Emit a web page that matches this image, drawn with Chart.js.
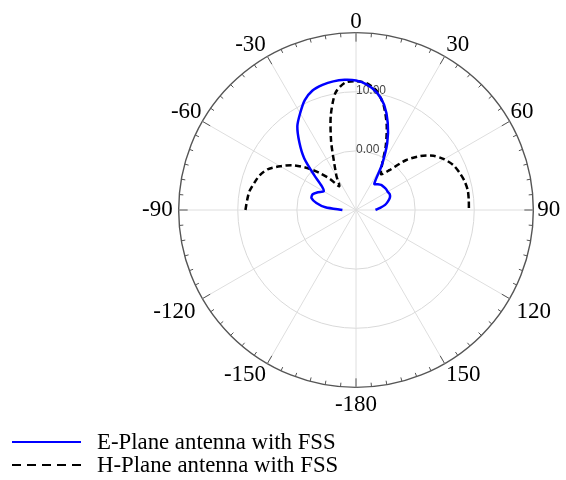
<!DOCTYPE html>
<html>
<head>
<meta charset="utf-8">
<script src="https://cdn.jsdelivr.net/npm/chart.js@4/dist/chart.umd.min.js"></script>
<style>
  html, body { margin: 0; padding: 0; background: #fff; }
  #wrap { position: relative; width: 566px; height: 480px; }
  #legend { position: absolute; left: 12px; top: 430px; font: 22.8px "Liberation Serif", "Times New Roman", serif; color: #000; }
  #legend .item { display: flex; align-items: center; height: 23px; white-space: nowrap; }
  #legend svg { margin-right: 16px; }
</style>
</head>
<body>
<div id="wrap">
  <canvas id="polarChart"></canvas>
  <div id="legend"></div>
</div>
<script>
// ---- Data (angle in degrees, gain in dB) ----
const thetas = [-90, -85, -80, -75, -70, -65, -60, -55, -50, -45, -40, -35, -30, -25, -20, -15, -10, -5,
                0, 5, 10, 15, 20, 25, 30, 35, 40, 45, 50, 55, 60, 65, 70, 75, 80, 85, 90];
const ePlane = [-7.7, -4.8, -3.2, -2.2, -2.2, -2.9, -3.7, -2.9, -0.7, 2.4, 4.9, 7.3, 8.9, 10.5, 11.5, 11.9, 12.1, 12.1,
                11.9, 11.3, 10.2, 8.4, 5.7, 2.5, -1.3, -4.6, -4.3, -4.0, -3.9, -3.8, -3.8, -3.7, -3.9, -4.4, -5.0, -5.9, -6.7];
const hPlane = [8.7, 8.5, 8.3, 7.8, 7.3, 6.4, 4.8, 3.2, 1.2, -1.0, -3.1, -5.1, -3.4, -1.3, 2.3, 6.5, 10.1, 11.6,
                11.8, 11.5, 10.4, 8.2, 5.2, 1.9, -1.2, -2.6, -1.2, 1.9, 4.2, 6.0, 7.2, 8.1, 8.6, 9.0, 9.2, 9.15, 9.1];
const seriesNames = ['E-Plane antenna with FSS', 'H-Plane antenna with FSS'];
const angleStep = 5;            // spoke resolution of the polar grid
const majorAngles = [0, 30, 60, 90, 120, 150, -180, -150, -120, -90, -60, -30];
const ringLabels = [0, 10];     // radial tick labels shown on the 0° spoke
const rMin = -10, rMax = 20, rStep = 10;

// spokes clockwise from the top: 0, 5, ... 175, -180, -175, ... -5
const angleLabels = [];
for (let a = 0; a < 360; a += angleStep) angleLabels.push(a >= 180 ? a - 360 : a);

// radar needs one slot per spoke; unused spokes stay empty
const toSpokes = vals => {
  const out = angleLabels.map(() => null);
  thetas.forEach((t, k) => { out[angleLabels.indexOf(t === 180 ? -180 : t)] = vals[k]; });
  return out;
};

const labelPad = { '0': 1.3, '30': 3, '60': 1, '90': 4, '120': 8, '150': 2.5, '-180': 8.8,
                   '-150': 2.5, '-120': 8, '-90': 6, '-60': 1, '-30': 3 };

// outer ring tick marks + radial value labels
const polarDecor = {
  id: 'polarDecor',
  beforeDatasetsDraw(chart) {
    const s = chart.scales.r, ctx = chart.ctx;
    const outer = s.drawingArea;
    ctx.save();
    ctx.strokeStyle = '#555';
    ctx.lineWidth = 1;
    angleLabels.forEach((a, i) => {
      const len = majorAngles.includes(a) ? 9 : 4;
      const p1 = s.getPointPosition(i, outer);
      const p2 = s.getPointPosition(i, outer - len);
      ctx.beginPath(); ctx.moveTo(p1.x, p1.y); ctx.lineTo(p2.x, p2.y); ctx.stroke();
    });
    ctx.fillStyle = '#444';
    ctx.font = '12px "Liberation Sans", Arial, sans-serif';
    ctx.textAlign = 'left';
    ctx.textBaseline = 'alphabetic';
    ringLabels.forEach(v => {
      const d = s.getDistanceFromCenterForValue(v);
      ctx.fillText(v.toFixed(2), s.xCenter, s.yCenter - d + 2);
    });
    ctx.restore();
  }
};

const chart = new Chart(document.getElementById('polarChart'), {
  type: 'radar',
  data: {
    labels: angleLabels,
    datasets: [
      { label: seriesNames[0], data: toSpokes(ePlane), borderColor: '#0000ff', backgroundColor: 'transparent',
        borderWidth: 2.5, pointRadius: 0, fill: false, tension: 0.25 },
      { label: seriesNames[1], data: toSpokes(hPlane), borderColor: '#000', backgroundColor: 'transparent',
        borderWidth: 2.5, borderDash: [6, 3.5], pointRadius: 0, fill: false, tension: 0.25 }
    ]
  },
  options: {
    responsive: true, maintainAspectRatio: false, animation: false,
    layout: { padding: { left: 137, right: 0, top: 9, bottom: 61 } },
    plugins: { legend: { display: false }, tooltip: { enabled: false } },
    scales: {
      r: {
        min: rMin, max: rMax, beginAtZero: false,
        ticks: { stepSize: rStep, display: false },
        grid: {
          circular: true,
          color: c => c.tick && c.tick.value === rMax ? '#555' : '#d9d9d9',
          lineWidth: c => c.tick && c.tick.value === rMax ? 1.4 : 1
        },
        angleLines: {
          color: '#dedede',
          lineWidth: c => majorAngles.includes(angleLabels[c.index]) ? 1 : 0
        },
        pointLabels: {
          callback: (lbl) => majorAngles.includes(lbl) ? String(lbl) : '',
          color: '#000',
          font: { family: '"Liberation Serif", "Times New Roman", serif', size: 23, lineHeight: 0.8 },
          padding: c => labelPad[String(angleLabels[c.index])] ?? 0
        }
      }
    }
  },
  plugins: [polarDecor]
});

// ---- Legend ----
const legend = document.getElementById('legend');
chart.data.datasets.forEach(ds => {
  const dash = ds.borderDash ? 'stroke-dasharray="9 6"' : '';
  legend.insertAdjacentHTML('beforeend',
    `<div class="item"><svg width="69" height="6"><line x1="0" y1="3" x2="69" y2="3" stroke="${ds.borderColor}" stroke-width="2" ${dash}/></svg><span>${ds.label}</span></div>`);
});
</script>
</body>
</html>
